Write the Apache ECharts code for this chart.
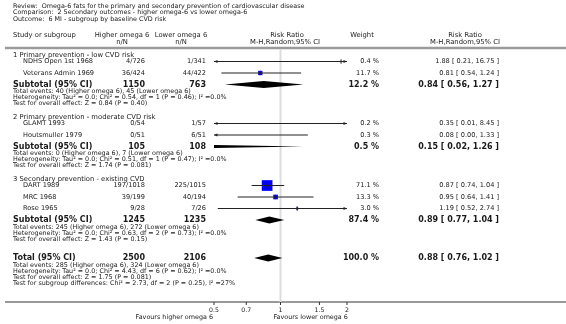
<!DOCTYPE html>
<html><head><meta charset="utf-8">
<script src="https://cdn.jsdelivr.net/npm/echarts@6/dist/echarts.min.js"></script>
<style>html,body{margin:0;padding:0;background:#fff}#c{width:566px;height:324px}</style>
</head><body><div id="c"></div>
<script>
// ---------------- data ----------------
const titleLines = [
  "Review:  Omega-6 fats for the primary and secondary prevention of cardiovascular disease",
  "Comparison:  2 Secondary outcomes - higher omega-6 vs lower omega-6",
  "Outcome:  6 MI - subgroup by baseline CVD risk"
];
const groupNames = ["1 Primary prevention - low CVD risk", "2 Primary prevention - moderate CVD risk", "3 Secondary prevention - existing CVD"];
const studyNames = ["NDHS Open 1st 1968", "Veterans Admin 1969", "GLAMT 1993", "Houtsmuller 1979", "DART 1989", "MRC 1968", "Rose 1965"];
const studyGroup = [0, 0, 1, 1, 2, 2, 2];
const higherNN = ["4/726", "36/424", "0/54", "0/51", "197/1018", "39/199", "9/28"];
const lowerNN = ["1/341", "44/422", "1/57", "6/51", "225/1015", "40/194", "7/26"];
const studyRR = [1.88, 0.81, 0.35, 0.08, 0.87, 0.95, 1.19];
const studyLo = [0.21, 0.54, 0.01, 0.00, 0.74, 0.64, 0.52];
const studyHi = [16.75, 1.24, 8.45, 1.33, 1.04, 1.41, 2.74];
const studyWeight = [0.4, 11.7, 0.2, 0.3, 71.1, 13.3, 3.0];

const subHigherN = [1150, 105, 1245];
const subLowerN = [763, 108, 1235];
const subRR = [0.84, 0.15, 0.89];
const subLo = [0.56, 0.02, 0.77];
const subHi = [1.27, 1.26, 1.04];
const subWeight = [12.2, 0.5, 87.4];
const subEventsHigher = [40, 0, 245];
const subEventsLower = [45, 7, 272];
const subChi2 = ["0.54", "0.51", "0.63"];
const subDf = [1, 1, 2];
const subHetP = ["0.46", "0.47", "0.73"];
const subZ = ["0.84", "1.74", "1.43"];
const subZP = ["0.40", "0.081", "0.15"];

const totalHigherN = 2500, totalLowerN = 2106;
const totalRR = 0.88, totalLo = 0.76, totalHi = 1.02, totalWeight = 100.0;
const totalEventsHigher = 285, totalEventsLower = 324;
const totalChi2 = "4.43", totalDf = 6, totalHetP = "0.62";
const totalZ = "1.75", totalZP = "0.081";
const subgroupDiffText = "Test for subgroup differences: Chi\u00b2 = 2.73, df = 2 (P = 0.25), I\u00b2 =27%";

const tickValues = [0.5, 0.7, 1, 1.5, 2];
const tickLabels = ["0.5", "0.7", "1", "1.5", "2"];
const axisMin = 0.5, axisMax = 2, nullValue = 1;
const favoursLeft = "Favours higher omega 6";
const favoursRight = "Favours lower omega 6";

// ---------------- layout ----------------
const FONT = '"DejaVu Sans", Verdana, sans-serif';
const TXT = '#1a1a1a';
const AXIS_Y = 302;
const FS = { title: 6.4, head: 6.8, group: 6.8, study: 6.6, bold: 8.0, info: 6.4, tick: 6.2, fav: 6.4 };
const rows = { group: [], study: [], sub: [], events: [], het: [], test: [] };
(function () {
  let y = 55;
  for (let g = 0; g < groupNames.length; g++) {
    rows.group.push(y);
    y += 6.5;
    const n = studyGroup.filter(v => v === g).length;
    for (let k = 0; k < n; k++) { rows.study.push(y); y += 11.5; }
    rows.sub.push(y); y += 7;
    rows.events.push(y); y += 6;
    rows.het.push(y); y += 6;
    rows.test.push(y); y += 13.5;
  }
  const t = rows.test[rows.test.length - 1] + 19;
  rows.total = t; rows.totalEvents = t + 7; rows.totalHet = t + 13; rows.totalTest = t + 19; rows.subDiff = t + 25;
})();

const COL = { name: 13, indent: 23, higher: 145, lower: 206, weight: 379, ci: 499 };

function txt(x, y, text, size, align, bold, color) {
  const font = (bold ? 'bold ' : '') + size + 'px ' + FONT;
  return {
    type: 'text', x: x, y: y, silent: true,
    style: { text: text, font: font, fill: color || TXT, align: align || 'left', verticalAlign: 'middle',
             textAlign: align || 'left', textVerticalAlign: 'middle' }
  };
}
function ciText(rr, lo, hi) { return rr.toFixed(2) + ' [ ' + lo.toFixed(2) + ', ' + hi.toFixed(2) + ' ]'; }

const g = [];
// titles
titleLines.forEach((s, i) => g.push(txt(13, 6 + i * 6.7, s, FS.title, 'left')));
// header
g.push(txt(13, 35, "Study or subgroup", FS.head, 'left'));
g.push(txt(122, 35, "Higher omega 6", FS.head, 'center'));
g.push(txt(122, 42, "n/N", FS.head, 'center'));
g.push(txt(181, 35, "Lower omega 6", FS.head, 'center'));
g.push(txt(181, 42, "n/N", FS.head, 'center'));
g.push(txt(287, 35, "Risk Ratio", FS.head, 'center'));
g.push(txt(285, 42, "M-H,Random,95% CI", FS.head, 'center'));
g.push(txt(362, 35, "Weight", FS.head, 'center'));
g.push(txt(465, 35, "Risk Ratio", FS.head, 'center'));
g.push(txt(465, 42, "M-H,Random,95% CI", FS.head, 'center'));
g.push({ type: 'line', silent: true, shape: { x1: 5, y1: 48, x2: 566, y2: 48 }, style: { stroke: '#9a9a9a', lineWidth: 2.5 } });

// groups
for (let k = 0; k < groupNames.length; k++) {
  g.push(txt(COL.name, rows.group[k], groupNames[k], FS.group, 'left'));
  const y = rows.sub[k];
  g.push(txt(COL.name, y, "Subtotal (95% CI)", FS.bold, 'left', true));
  g.push(txt(COL.higher, y, String(subHigherN[k]), FS.bold, 'right', true));
  g.push(txt(COL.lower, y, String(subLowerN[k]), FS.bold, 'right', true));
  g.push(txt(COL.weight, y, subWeight[k].toFixed(1) + ' %', FS.bold, 'right', true));
  g.push(txt(COL.ci, y, ciText(subRR[k], subLo[k], subHi[k]), FS.bold, 'right', true));
  g.push(txt(COL.name, rows.events[k], 'Total events: ' + subEventsHigher[k] + ' (Higher omega 6), ' + subEventsLower[k] + ' (Lower omega 6)', FS.info, 'left'));
  g.push(txt(COL.name, rows.het[k], 'Heterogeneity: Tau\u00b2 = 0.0; Chi\u00b2 = ' + subChi2[k] + ', df = ' + subDf[k] + ' (P = ' + subHetP[k] + '); I\u00b2 =0.0%', FS.info, 'left'));
  g.push(txt(COL.name, rows.test[k], 'Test for overall effect: Z = ' + subZ[k] + ' (P = ' + subZP[k] + ')', FS.info, 'left'));
}
// studies
for (let i = 0; i < studyNames.length; i++) {
  const y = rows.study[i];
  g.push(txt(COL.indent, y, studyNames[i], FS.study, 'left'));
  g.push(txt(COL.higher, y, higherNN[i], FS.study, 'right'));
  g.push(txt(COL.lower, y, lowerNN[i], FS.study, 'right'));
  g.push(txt(COL.weight, y, studyWeight[i].toFixed(1) + ' %', FS.study, 'right'));
  g.push(txt(COL.ci, y, ciText(studyRR[i], studyLo[i], studyHi[i]), FS.study, 'right'));
}
// total
g.push(txt(COL.name, rows.total, "Total (95% CI)", FS.bold, 'left', true));
g.push(txt(COL.higher, rows.total, String(totalHigherN), FS.bold, 'right', true));
g.push(txt(COL.lower, rows.total, String(totalLowerN), FS.bold, 'right', true));
g.push(txt(COL.weight, rows.total, totalWeight.toFixed(1) + ' %', FS.bold, 'right', true));
g.push(txt(COL.ci, rows.total, ciText(totalRR, totalLo, totalHi), FS.bold, 'right', true));
g.push(txt(COL.name, rows.totalEvents, 'Total events: ' + totalEventsHigher + ' (Higher omega 6), ' + totalEventsLower + ' (Lower omega 6)', FS.info, 'left'));
g.push(txt(COL.name, rows.totalHet, 'Heterogeneity: Tau\u00b2 = 0.0; Chi\u00b2 = ' + totalChi2 + ', df = ' + totalDf + ' (P = ' + totalHetP + '); I\u00b2 =0.0%', FS.info, 'left'));
g.push(txt(COL.name, rows.totalTest, 'Test for overall effect: Z = ' + totalZ + ' (P = ' + totalZP + ')', FS.info, 'left'));
g.push(txt(COL.name, rows.subDiff, subgroupDiffText, FS.info, 'left'));
// axis baseline (full width)
g.push({ type: 'line', silent: true, z: 0, shape: { x1: 5, y1: AXIS_Y, x2: 566, y2: AXIS_Y }, style: { stroke: '#333', lineWidth: 1 } });

// ---------------- series data ----------------
const forestData = [];
for (let i = 0; i < studyNames.length; i++) forestData.push([studyRR[i], rows.study[i], studyLo[i], studyHi[i], studyWeight[i], 0]);
for (let k = 0; k < subRR.length; k++) forestData.push([subRR[k], rows.sub[k], subLo[k], subHi[k], subWeight[k], 1]);
forestData.push([totalRR, rows.total, totalLo, totalHi, totalWeight, 1]);

function renderForest(params, api) {
  const rr = api.value(0), y = api.value(1), lo = api.value(2), hi = api.value(3), w = api.value(4), type = api.value(5);
  const children = [];
  if (type === 1) {
    const h = 3.6;
    const pl = api.coord([lo, y]), pc = api.coord([rr, y]), ph = api.coord([hi, y]);
    children.push({ type: 'polygon', shape: { points: [[pl[0], pl[1]], [pc[0], pc[1] - h], [ph[0], ph[1]], [pc[0], pc[1] + h]] }, style: { fill: '#000' } });
    return { type: 'group', children: children };
  }
  const l = Math.max(lo, axisMin), r = Math.min(hi, axisMax);
  const pl = api.coord([l, y]), pr = api.coord([r, y]);
  const inRange = rr >= axisMin && rr <= axisMax;
  if (inRange) {
    const s = 1.27 * Math.sqrt(w);
    const pc = api.coord([rr, y]);
    children.push({ type: 'rect', shape: { x: pc[0] - s / 2, y: pc[1] - s / 2, width: s, height: s }, style: { fill: '#0000ff' } });
  }
  children.push({ type: 'line', shape: { x1: pl[0], y1: pl[1], x2: pr[0], y2: pr[1] }, style: { stroke: '#222', lineWidth: 1 } });
  if (inRange) {
    const pc = api.coord([rr, y]);
    children.push({ type: 'line', shape: { x1: pc[0], y1: pc[1] - 2.2, x2: pc[0], y2: pc[1] + 2.2 }, style: { stroke: '#222', lineWidth: 1 } });
  }
  if (lo < axisMin) {
    children.push({ type: 'polygon', shape: { points: [[pl[0], pl[1]], [pl[0] + 3.5, pl[1] - 1.6], [pl[0] + 3.5, pl[1] + 1.6]] }, style: { fill: '#222' } });
  }
  if (hi > axisMax) {
    children.push({ type: 'polygon', shape: { points: [[pr[0], pr[1]], [pr[0] - 3.5, pr[1] - 1.6], [pr[0] - 3.5, pr[1] + 1.6]] }, style: { fill: '#222' } });
  }
  return { type: 'group', children: children };
}

const tickData = tickValues.map((v, i) => [v, AXIS_Y, i]);
function renderTicks(params, api) {
  const p = api.coord([api.value(0), api.value(1)]);
  const i = api.value(2);
  return { type: 'group', children: [
    { type: 'line', shape: { x1: p[0], y1: p[1], x2: p[0], y2: p[1] + 3 }, style: { stroke: '#333', lineWidth: 1 } },
    { type: 'text', x: p[0], y: p[1] + 8.5, style: { text: tickLabels[i], font: FS.tick + 'px ' + FONT, fill: TXT, align: 'center', verticalAlign: 'middle', textAlign: 'center', textVerticalAlign: 'middle' } }
  ] };
}
function renderFavours(params, api) {
  const pMin = api.coord([axisMin, AXIS_Y]);
  const pNull = api.coord([nullValue, AXIS_Y]);
  return { type: 'group', children: [
    { type: 'text', x: pMin[0] - 1, y: AXIS_Y + 15, style: { text: favoursLeft, font: FS.fav + 'px ' + FONT, fill: TXT, align: 'right', verticalAlign: 'middle', textAlign: 'right', textVerticalAlign: 'middle' } },
    { type: 'text', x: pNull[0] - 7, y: AXIS_Y + 15, style: { text: favoursRight, font: FS.fav + 'px ' + FONT, fill: TXT, align: 'left', verticalAlign: 'middle', textAlign: 'left', textVerticalAlign: 'middle' } }
  ] };
}
function renderNull(params, api) {
  const a = api.coord([api.value(0), 49]);
  const b = api.coord([api.value(0), AXIS_Y]);
  return { type: 'line', shape: { x1: a[0], y1: a[1], x2: b[0], y2: b[1] }, style: { stroke: '#dcdcdc', lineWidth: 2 } };
}

const chart = echarts.init(document.getElementById('c'));
chart.setOption({
  animation: false,
  backgroundColor: '#fff',
  grid: { left: 214, width: 133, top: 0, height: AXIS_Y },
  xAxis: { type: 'log', logBase: 10, min: axisMin, max: axisMax, axisLine: { show: false }, axisTick: { show: false }, axisLabel: { show: false }, splitLine: { show: false } },
  yAxis: { type: 'value', min: 0, max: AXIS_Y, inverse: true, show: false },
  graphic: { elements: g },
  series: [
    { type: 'custom', z: 1, renderItem: renderNull, data: [[nullValue, AXIS_Y]], encode: { x: 0, y: 1 }, silent: true },
    { type: 'custom', z: 3, clip: true, renderItem: renderForest, data: forestData, encode: { x: 0, y: 1 }, silent: true },
    { type: 'custom', z: 3, renderItem: renderTicks, data: tickData, encode: { x: 0, y: 1 }, silent: true },
    { type: 'custom', z: 3, renderItem: renderFavours, data: [[nullValue, AXIS_Y]], encode: { x: 0, y: 1 }, silent: true }
  ]
});
</script>
</body></html>
